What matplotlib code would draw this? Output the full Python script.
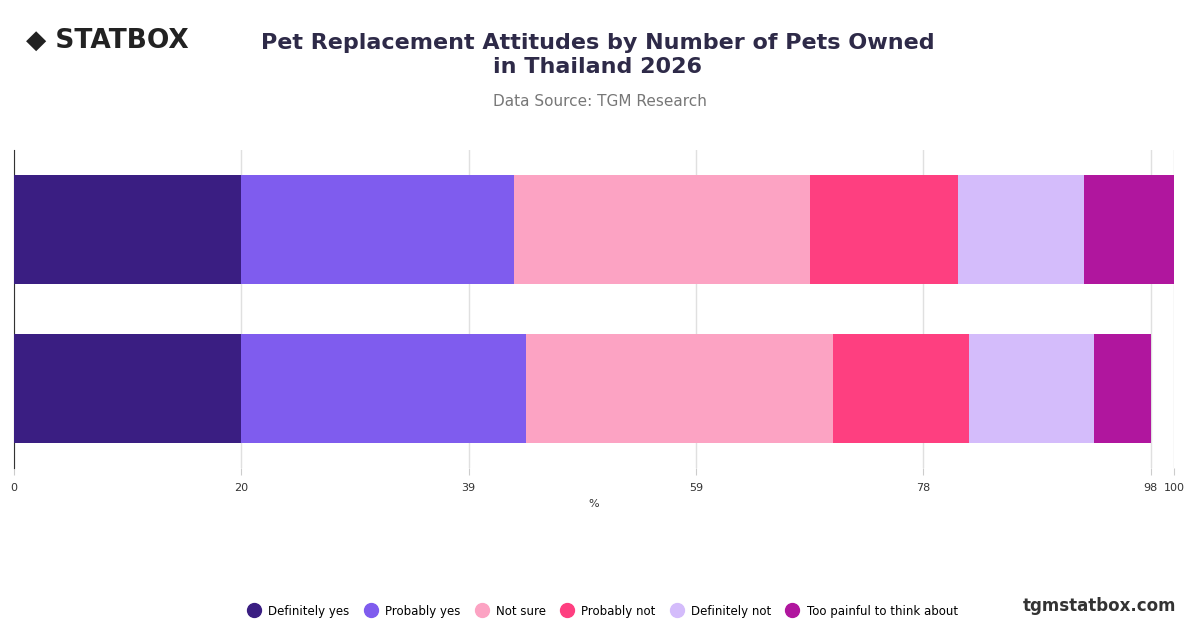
import matplotlib.pyplot as plt
from matplotlib.lines import Line2D

groups = ["1 pet", "2+ pets"]
series = ["Definitely yes", "Probably yes", "Not sure", "Probably not", "Definitely not", "Too painful to think about"]
colors = ["#3a1e82", "#7f5cee", "#fca3c3", "#fe3f80", "#d4bcfb", "#b0169e"]
values = [
    [19.6, 23.5, 25.5, 12.8, 10.8, 7.8],
    [19.6, 24.5, 26.5, 11.7, 10.8, 4.9],
]
ticks = [0, 19.6, 39.2, 58.8, 78.4, 98, 100]
tick_labels = ["0", "20", "39", "59", "78", "98", "100"]

fig = plt.figure(figsize=(12, 6.28), dpi=100)
ax = fig.add_axes([14/1200, 1-468/628, 1160/1200, 318/628])

for gi, row in enumerate(values):
    left = 0
    for si, v in enumerate(row):
        ax.barh(gi, v, left=left, height=0.69, color=colors[si], zorder=3)
        left += v

ax.set_xlim(0, 100)
ax.set_ylim(1.5, -0.5)
ax.set_yticks([])
ax.set_xticks(ticks)
ax.set_xticklabels(tick_labels, fontsize=8, color="#333333")
ax.tick_params(axis="x", length=5, color="#cccccc", pad=6)
ax.grid(axis="x", color="#e0e0e0", lw=1, zorder=0)
for s in ["top", "right", "bottom"]:
    ax.spines[s].set_visible(False)
ax.spines["left"].set_color("#333333")
ax.set_xlabel("%", fontsize=8, color="#333333", labelpad=4)

fig.text(0.498, 0.912, "Pet Replacement Attitudes by Number of Pets Owned\nin Thailand 2026",
         ha="center", va="center", fontsize=16, fontweight="bold", color="#2e2a48", linespacing=1.25)
fig.text(0.5, 0.838, "Data Source: TGM Research", ha="center", va="center", fontsize=11, color="#777777")
fig.text(0.022, 0.935, "◆ STATBOX", ha="left", va="center", fontsize=19, fontweight="bold", color="#222222")
fig.text(0.98, 0.035, "tgmstatbox.com", ha="right", va="center", fontsize=12, fontweight="bold", color="#333333")

handles = [Line2D([], [], marker="o", ls="", markersize=10, markerfacecolor=c, markeredgecolor=c) for c in colors]
fig.legend(handles, series, loc="center", bbox_to_anchor=(0.5, 0.027), ncol=6, frameon=False,
           fontsize=8.5, handletextpad=0.2, columnspacing=0.8)

fig.savefig("out.png", dpi=100)
